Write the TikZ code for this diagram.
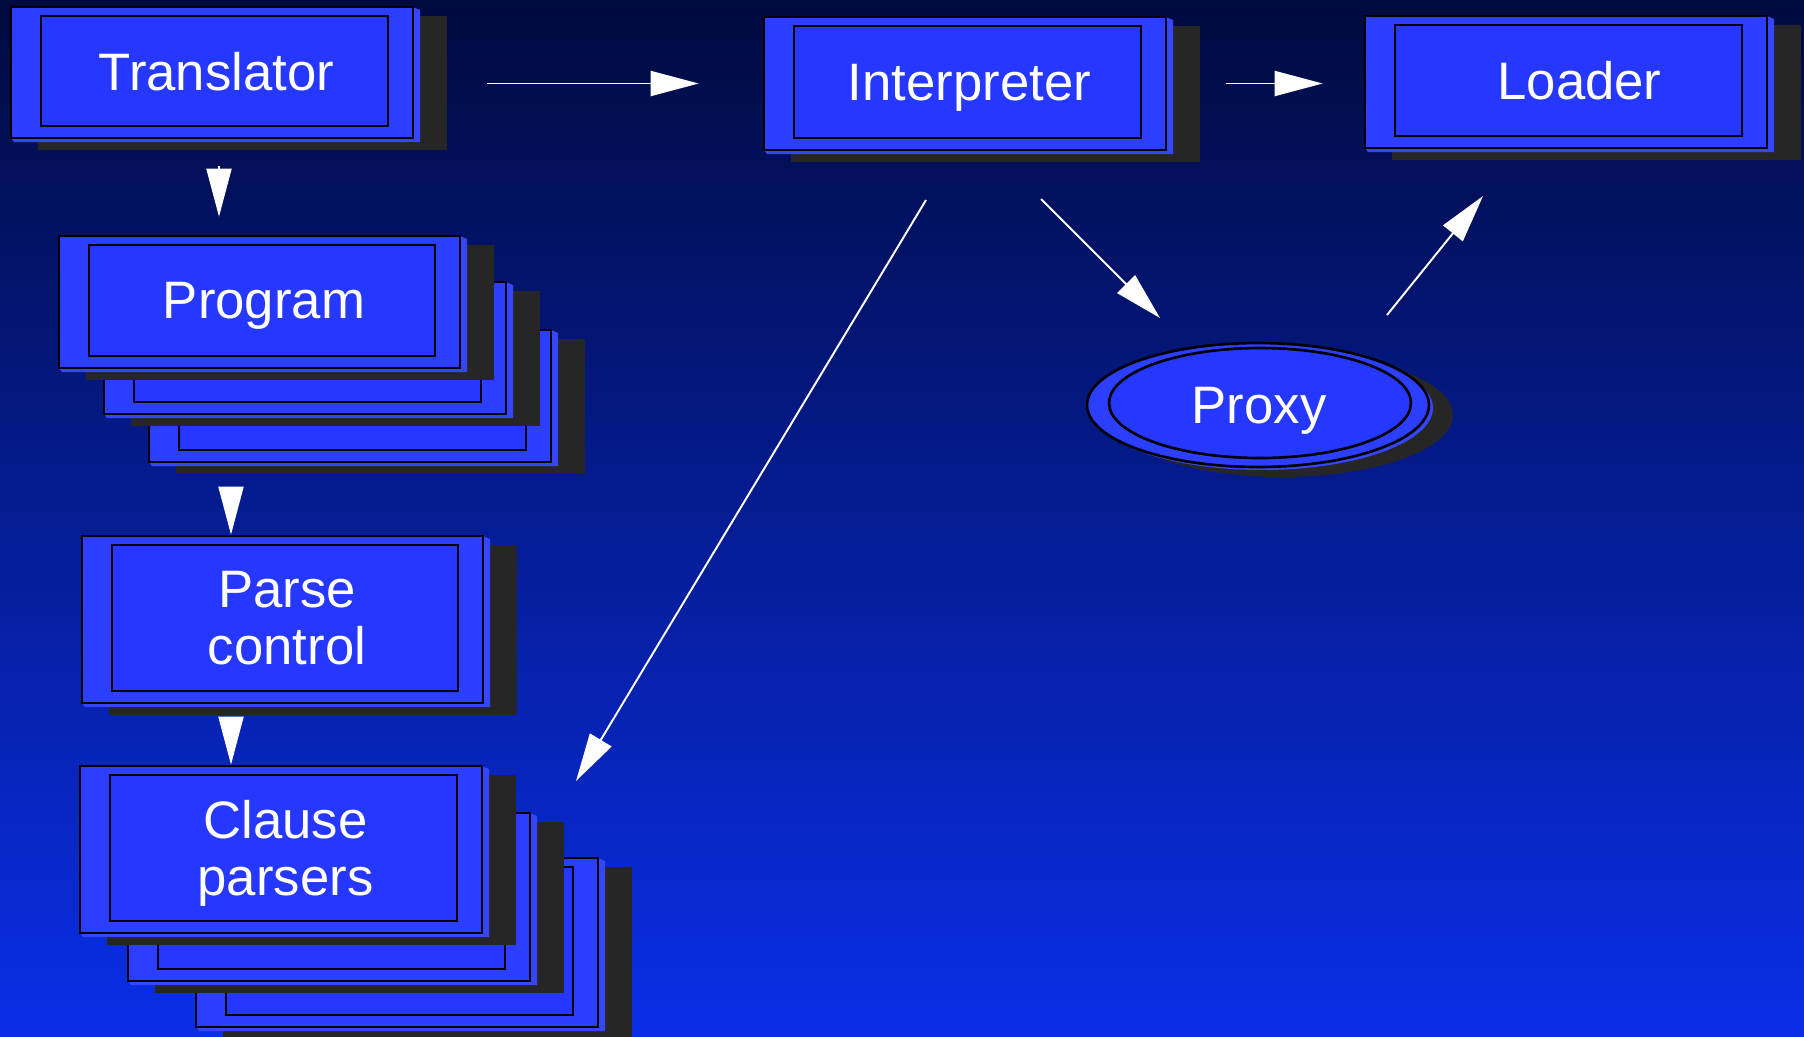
\documentclass[tikz,border=0pt]{standalone}
\usepackage{fontspec}
\setmainfont{Liberation Sans}
\usetikzlibrary{arrows.meta,fit,calc,shapes.geometric}
\definecolor{bgtop}{RGB}{0,10,62}
\definecolor{bgbot}{RGB}{10,46,232}
\definecolor{boxc}{RGB}{38,56,255}
\definecolor{framec}{RGB}{44,62,255}
\definecolor{edgec}{RGB}{54,70,255}
\definecolor{shadowc}{RGB}{38,38,38}
\tikzset{
  outerbox/.style={draw=black, line width=1.5pt, fill=framec, inner sep=0pt, rectangle},
  innerbox/.style={draw=black, line width=1.5pt, fill=boxc, inner sep=0pt, rectangle},
  lbl/.style={text=white, font=\fontsize{30}{32.5}\selectfont, align=center, text depth=0pt, inner sep=0pt},
  arr/.style={draw=white, line width=1.1pt, -{Triangle[length=0.96cm,width=0.5cm]}},
  ellouter/.style={ellipse, inner sep=0pt, minimum width=6.84cm, minimum height=2.48cm},
}
% #1,#2 top-left; #3,#4 bottom-right (px); #5 name; #6 text; #7 text x-shift (px)
\newcommand\pbox[7]{%
  \fill[shadowc] (#1+27,#2+9) rectangle (#3+34,#4+12);
  \fill[edgec] (#3,#2) -- (#3+7,#2+3) -- (#3+7,#4+4) -- (#1+3,#4+4) -- (#1,#4) -- cycle;
  \node[outerbox, fit={(#1,#2) (#3,#4)}] (#5) {};
  \node[innerbox, fit={(#1+30,#2+9) (#3-25,#4-12)}] (#5-in) {};
  \node[lbl] (#5-t) at ([xshift=#7*0.02cm]#5-in.center) {#6};
}
\begin{document}
\begin{tikzpicture}[x=0.02cm, y=-0.02cm]
\useasboundingbox (0,0) rectangle (1804,1036);
\shade[top color=bgtop, bottom color=bgbot] (0,0) rectangle (1804,1036);

% top row
\pbox{11}{7}{413}{138}{trans}{Translator}{2}
\pbox{764}{17}{1166}{150}{interp}{Interpreter}{2}
\pbox{1365}{16}{1767}{148}{loader}{Loader}{11}

% program stack
\pbox{149}{330}{551}{462}{prog3}{}{0}
\pbox{104}{282}{506}{414}{prog2}{}{0}
\pbox{59}{236}{460}{368}{prog}{Program}{2}

% parse control
\pbox{82}{536}{483}{703}{parse}{Parse\\control}{2}

% clause parsers stack
\pbox{196}{858}{598}{1027}{clause3}{}{0}
\pbox{128}{813}{530}{981}{clause2}{}{0}
\pbox{80}{766}{482}{933}{clause}{Clause\\parsers}{2}

% proxy
\node[ellouter, fill=shadowc] (proxy-sh) at (1282,415) {};
\node[ellouter, fill=edgec] (proxy-edge) at (1262,408) {};
\node[ellouter, draw=black, line width=1.5pt, fill=framec] (proxy) at (1258,405) {};
\node[ellipse, inner sep=0pt, minimum width=6.04cm, minimum height=2.2cm, draw=black, line width=1.5pt, fill=boxc] (proxy-in) at (1260,403) {};
\node[lbl] (proxy-t) at (1259,405) {Proxy};

% connectors
\draw[arr, shorten <=1.46cm, shorten >=1.28cm] (trans.east |- interp.west) -- (interp.west);
\draw[arr, shorten <=1.18cm, shorten >=0.82cm] (interp.east) -- (interp.east -| loader.west);
\coordinate (t2p) at ([xshift=0.14cm]trans.south);
\draw[arr, shorten <=0.54cm, shorten >=0.36cm] (t2p) -- (t2p |- prog.north);
\coordinate (vx) at (231,0);
\draw[arr, shorten <=0.48cm] (vx |- prog3.south) -- (vx |- parse.north);
\draw[arr, shorten <=0.26cm] (vx |- parse.south) -- (vx |- clause.north);
\coordinate (ip1) at (1041,199);
\coordinate (ip2) at (1160,318);
\draw[arr] (ip1) -- (ip2);
\coordinate (pl1) at (1387,315);
\coordinate (pl2) at (1483,196);
\draw[arr] (pl1) -- (pl2);
\coordinate (ic1) at (926,200);
\coordinate (ic2) at (576,781);
\draw[arr] (ic1) -- (ic2);
\end{tikzpicture}
\end{document}
